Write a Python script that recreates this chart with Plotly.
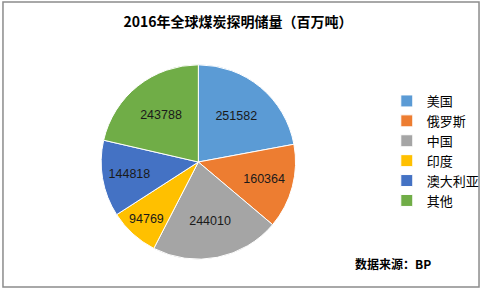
import plotly.graph_objects as go

title = "2016年全球煤炭探明储量（百万吨）"
countries = ["美国", "俄罗斯", "中国", "印度", "澳大利亚", "其他"]
reserves = [251582, 160364, 244010, 94769, 144818, 243788]
colors = ["#5B9BD5", "#ED7D31", "#A5A5A5", "#FFC000", "#4472C4", "#70AD47"]
source = "数据来源：BP"

W, H = 485, 293
cx, cy, r = 200, 162, 98

fig = go.Figure(go.Pie(
    labels=countries,
    values=reserves,
    sort=False,
    direction="clockwise",
    rotation=0,
    marker=dict(colors=colors, line=dict(color="white", width=1)),
    texttemplate="%{value:d}",
    textposition="inside",
    insidetextorientation="horizontal",
    textfont=dict(family="Liberation Sans, Arial", size=12.5, color="#1a1a1a"),
    domain=dict(x=[(cx - r) / W, (cx + r) / W], y=[(H - cy - r) / H, (H - cy + r) / H]),
    hoverinfo="label+value",
))

fig.update_layout(
    width=W, height=H,
    margin=dict(l=0, r=0, t=0, b=0),
    paper_bgcolor="white",
    title=dict(text="<b>" + title + "</b>", x=238 / W, xanchor="center", y=1 - 22 / H, yanchor="middle",
               font=dict(family="Noto Sans CJK SC", size=14, color="#000000")),
    legend=dict(x=390 / W, y=1 - 86 / H, xanchor="left", yanchor="top",
                font=dict(family="Noto Sans CJK SC", size=13, color="#000000"),
                bgcolor="rgba(0,0,0,0)", itemwidth=30, tracegroupgap=0),
    annotations=[dict(text="<b>" + source + "</b>", x=356 / W, y=1 - 263 / H, xref="paper", yref="paper",
                      xanchor="left", yanchor="middle", showarrow=False,
                      font=dict(family="Noto Sans CJK SC", size=12, color="#000000"))],
    shapes=[dict(type="rect", xref="paper", yref="paper", x0=3 / W, x1=483 / W, y0=1 - 287 / H, y1=1 - 2 / H,
                 line=dict(color="#8c8c8c", width=1.5))],
)

fig.write_html("out.html")
